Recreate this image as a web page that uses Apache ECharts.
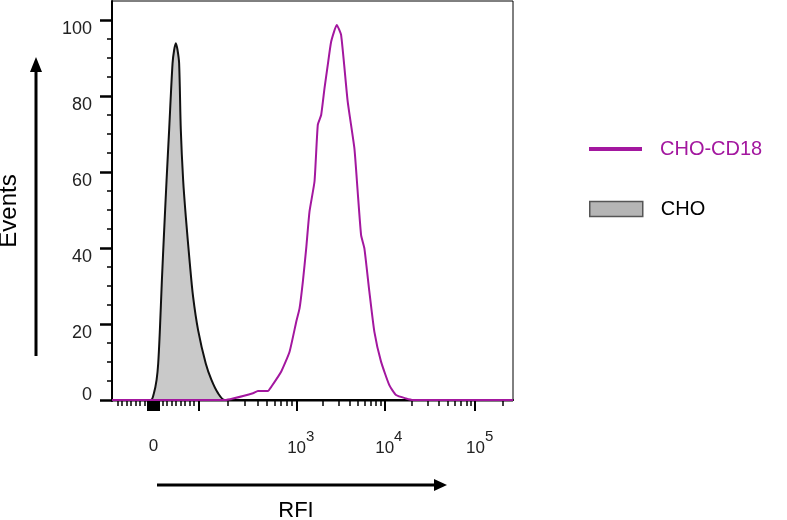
<!DOCTYPE html>
<html>
<head>
<meta charset="utf-8">
<script src="https://cdn.jsdelivr.net/npm/echarts@6/dist/echarts.min.js"></script>
<style>
  html, body { margin: 0; padding: 0; background: #fff; }
  #chart { width: 787px; height: 520px; }
</style>
</head>
<body>
<div id="chart"></div>
<script>
// x values are display channels (0-1000) of a biexponential RFI scale
const choX = [0, 96.3, 104.5, 111.2, 115.2, 119.4, 124.4, 130.1, 136.1, 142.5, 151.0, 155.0, 159.2, 163.4, 167.4, 171.6, 177.4, 184.1, 194.0, 202.2, 214.7, 233.8, 248.0, 264.4, 281.1, 300];
const choY = [0, 0, 1.8, 5.3, 9.6, 18.4, 31.5, 44.7, 57.9, 71.1, 88.6, 92.1, 93.9, 92.1, 88.6, 71.1, 57.9, 48.2, 36, 27.2, 18.4, 9.6, 5.3, 1.8, 0, 0];

const cdX = [0, 281, 301.7, 351.5, 363.9, 388.8, 397.3, 422.1, 442.8, 459.5, 467.7, 475.9, 484.3, 492.5, 505.0, 513.2, 521.6, 529.9, 538.1, 546.5, 560.5, 571.4, 587.8, 604.5, 612.7, 621.2, 629.4, 641.8, 654.2, 670.9, 691.6, 708.3, 733.1, 751, 1000];
const cdY = [0, 0, 0.4, 1.8, 2.4, 2.4, 3.5, 7.5, 12.7, 20.6, 24.1, 31.1, 39.9, 49.6, 57.5, 72.4, 75, 82, 88.2, 94.3, 98.7, 96, 78.5, 66.2, 54.8, 43.4, 39.9, 28.5, 18, 10.1, 3.9, 1.3, 0.4, 0, 0];

// scale anchors: real RFI value -> display channel
const anchorVals = [100, 1000, 10000, 100000];
const anchorCh = [215.2, 459.5, 679.1, 905.5];

const xLabelVals = [0, 1000, 10000, 100000];
const xLabelText = ['{b|0}', '{p|10}{s|3}', '{p|10}{s|4}', '{p|10}{s|5}'];
const xMajorVals = [-12, -9, -6, -3, 0, 3, 6, 9, 12, 100, 1000, 10000, 100000];
const xMinorVals = [-80, -70, -60, -50, -40, -30, -20, 20, 30, 40, 50, 60, 70, 80, 90,
  200, 300, 400, 500, 600, 700, 800, 900,
  2000, 3000, 4000, 5000, 6000, 7000, 8000, 9000,
  20000, 30000, 40000, 50000, 60000, 70000, 80000, 90000, 200000];

const yLabelVals = [0, 20, 40, 60, 80, 100];
const yMinorVals = [5, 10, 15, 25, 30, 35, 45, 50, 55, 65, 70, 75, 85, 90, 95];

const magenta = '#a3179f';
const font = 'Liberation Sans, Arial, Helvetica, sans-serif';

function toCh(v) {
  if (v <= 100) return 103.2 + 1.12 * v;
  let lv = Math.log10(v);
  for (let i = 0; i < anchorVals.length - 1; i++) {
    let a = Math.log10(anchorVals[i]), b = Math.log10(anchorVals[i + 1]);
    if (lv <= b) return anchorCh[i] + (lv - a) / (b - a) * (anchorCh[i + 1] - anchorCh[i]);
  }
  let n = anchorCh.length;
  return anchorCh[n - 1] + (lv - 5) * (anchorCh[n - 1] - anchorCh[n - 2]);
}

const chart = echarts.init(document.getElementById('chart'));

const xBase = {
  type: 'value', min: 0, max: 1000, position: 'bottom',
  splitLine: { show: false }
};
const yBase = {
  type: 'value', min: -0.26, max: 105, position: 'left',
  splitLine: { show: false }
};

chart.setOption({
  animation: false,
  grid: { left: 112, right: 274, top: 1, bottom: 119, show: true, borderColor: '#000', borderWidth: 1 },
  xAxis: [
    Object.assign({}, xBase, {
      axisLine: { lineStyle: { color: '#000', width: 2 } },
      axisTick: { customValues: xMajorVals.map(toCh), length: 11, lineStyle: { color: '#000', width: 2 } },
      axisLabel: {
        customValues: xLabelVals.map(toCh),
        margin: 28,
        formatter: function (val) {
          for (let i = 0; i < xLabelVals.length; i++) {
            if (Math.abs(toCh(xLabelVals[i]) - val) < 0.5) return xLabelText[i];
          }
          return '';
        },
        rich: {
          b: { fontSize: 17, fontFamily: font, color: '#222', padding: [9, 0, 0, 0] },
          p: { fontSize: 17, fontFamily: font, color: '#222', padding: [0, 0, 0, 9] },
          s: { fontSize: 15, fontFamily: font, color: '#222', padding: [0, 0, 24, 0] }
        }
      }
    }),
    Object.assign({}, xBase, {
      axisLine: { show: false },
      axisTick: { customValues: xMinorVals.map(toCh), length: 6, lineStyle: { color: '#000', width: 1.5 } },
      axisLabel: { show: false }
    })
  ],
  yAxis: [
    Object.assign({}, yBase, {
      axisLine: { show: true, lineStyle: { color: '#000', width: 2 } },
      axisTick: { show: true, customValues: yLabelVals, length: 12, lineStyle: { color: '#000', width: 2.5 } },
      axisLabel: {
        customValues: yLabelVals,
        margin: 20,
        formatter: function (v) { return v === 0 ? '{z|0}' : '{n|' + v + '}'; },
        rich: {
          n: { fontSize: 18, fontFamily: font, color: '#222', padding: [18, 0, 0, 0] },
          z: { fontSize: 18, fontFamily: font, color: '#222', padding: [0, 0, 10, 0] }
        }
      }
    }),
    Object.assign({}, yBase, {
      axisLine: { show: false },
      axisTick: { show: true, customValues: yMinorVals, length: 5, lineStyle: { color: '#000', width: 1.5 } },
      axisLabel: { show: false }
    })
  ],
  legend: [
    {
      data: [{ name: 'CHO-CD18', icon: 'rect', itemStyle: { color: magenta } }],
      left: 589, top: 139, padding: 0, itemWidth: 53, itemHeight: 4, selectedMode: false,
      textStyle: { color: magenta, fontSize: 20, fontFamily: font, padding: [0, 0, 0, 13] }
    },
    {
      data: [{ name: 'CHO', icon: 'rect', itemStyle: { color: '#b5b5b5', borderColor: '#555', borderWidth: 1.5 } }],
      left: 589, top: 199, padding: 0, itemWidth: 53, itemHeight: 15, selectedMode: false,
      textStyle: { color: '#000', fontSize: 20, fontFamily: font, padding: [0, 0, 0, 13] }
    }
  ],
  series: [
    {
      name: 'CHO', type: 'line', symbol: 'none', smooth: 0.3,
      data: choX.map((x, i) => [x, choY[i]]),
      lineStyle: { color: '#111', width: 2 },
      itemStyle: { color: '#b5b5b5' },
      areaStyle: { color: '#c9c9c9', opacity: 1 }
    },
    {
      name: 'CHO-CD18', type: 'line', symbol: 'none', smooth: 0.15,
      data: cdX.map((x, i) => [x, cdY[i]]),
      lineStyle: { color: magenta, width: 2 },
      itemStyle: { color: magenta }
    }
  ],
  graphic: [
    { type: 'line', shape: { x1: 36, y1: 356, x2: 36, y2: 70 }, style: { stroke: '#000', lineWidth: 3 } },
    { type: 'polygon', shape: { points: [[36, 57], [30, 72], [42, 72]] }, style: { fill: '#000' } },
    { type: 'line', shape: { x1: 157, y1: 485, x2: 436, y2: 485 }, style: { stroke: '#000', lineWidth: 3 } },
    { type: 'polygon', shape: { points: [[447, 485], [434, 479], [434, 491]] }, style: { fill: '#000' } },
    {
      type: 'text', x: 9, y: 211, rotation: Math.PI / 2,
      style: { text: 'Events', fontSize: 24, fontFamily: font, fill: '#000', align: 'center', verticalAlign: 'middle' }
    },
    {
      type: 'text', x: 296, y: 511,
      style: { text: 'RFI', fontSize: 22, fontFamily: font, fill: '#000', align: 'center', verticalAlign: 'middle' }
    }
  ]
});
</script>
</body>
</html>
